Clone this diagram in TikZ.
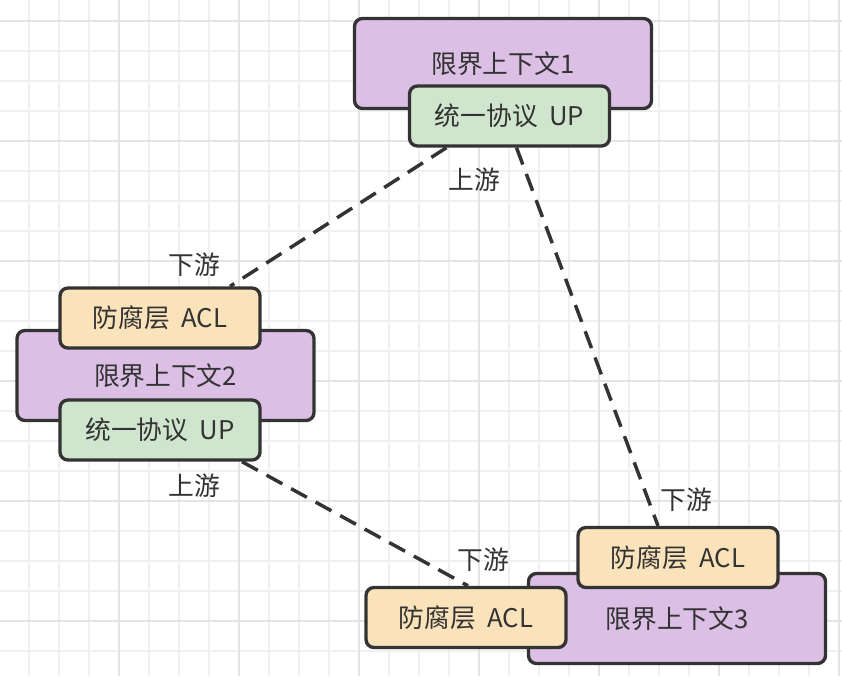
\documentclass[tikz,border=0pt]{standalone}
\usepackage{fontspec}
\newfontfamily\cjk{Noto Sans CJK SC}
\usetikzlibrary{positioning}
\definecolor{gridminor}{HTML}{F0F0F0}
\definecolor{gridmajor}{HTML}{E4E4E4}
\definecolor{ink}{HTML}{333333}
\definecolor{ctxfill}{HTML}{DCBFE4}
\definecolor{upfill}{HTML}{D0E5CD}
\definecolor{aclfill}{HTML}{FAE2BA}
\newcommand\wsp{\hspace{0.45em}}

\begin{document}
\begin{tikzpicture}[x=0.75pt,y=-0.75pt,
  minor/.style={draw=gridminor,line width=1.5pt},
  major/.style={draw=gridmajor,line width=1.5pt},
  box/.style={draw=ink,line width=2.5pt,rounded corners=6pt,text=ink,
    font=\cjk\fontsize{19.3}{23}\selectfont,inner sep=0pt},
  ctx/.style={box,fill=ctxfill,minimum width=222.75pt,minimum height=67.5pt},
  proto/.style={box,fill=upfill,minimum width=150pt,minimum height=45pt},
  acl/.style={box,fill=aclfill,minimum width=150pt,minimum height=45pt},
  link/.style={draw=ink,line width=2.6pt,dash pattern=on 13.5pt off 7.5pt},
  tag/.style={text=ink,font=\cjk\fontsize{19.3}{23}\selectfont,inner sep=0pt}]
\useasboundingbox (0,0) rectangle (842,676);
\fill[white] (0,0) rectangle (842,676);
% grid
\foreach \x in {-1,29,...,839} \draw[minor] (\x,0) -- (\x,676);
\foreach \y in {-9,21,...,680} \draw[minor] (0,\y) -- (842,\y);
\foreach \x in {-1,119,...,839} \draw[major] (\x,0) -- (\x,676);
\foreach \y in {21,141,...,680} \draw[major] (0,\y) -- (842,\y);

% contexts
\node[ctx] (ctx1) at (503,63.5) {限界上下文1};
\node[proto] (up1) at (509.5,116) {统一协议\wsp UP};

\node[ctx] (ctx2) at (165.5,375.5) {限界上下文2};
\node[acl] (acl2) at (160,318) {防腐层\wsp ACL};
\node[proto] (up2) at (160,430) {统一协议\wsp UP};

\node[ctx] (ctx3) at (677,618.5) {限界上下文3};
\node[acl] (acl3a) at (678,557.5) {防腐层\wsp ACL};
\node[acl] (acl3b) at (466,617.5) {防腐层\wsp ACL};

% relations
\draw[link] ([xshift=-47.25pt]up1.south) -- ([xshift=52.5pt]acl2.north);
\draw[link] ([xshift=5.25pt]up1.south) -- ([xshift=-15pt]acl3a.north);
\draw[link] ([xshift=61.5pt]up2.south) -- ([xshift=1.5pt]acl3b.north);

\node[tag] (u1) at (474,180) {上游};
\node[tag] (d2) at (194,265) {下游};
\node[tag] (u2) at (194,486) {上游};
\node[tag] (d3a) at (686,500) {下游};
\node[tag] (d3b) at (483,560) {下游};
\end{tikzpicture}
\end{document}
